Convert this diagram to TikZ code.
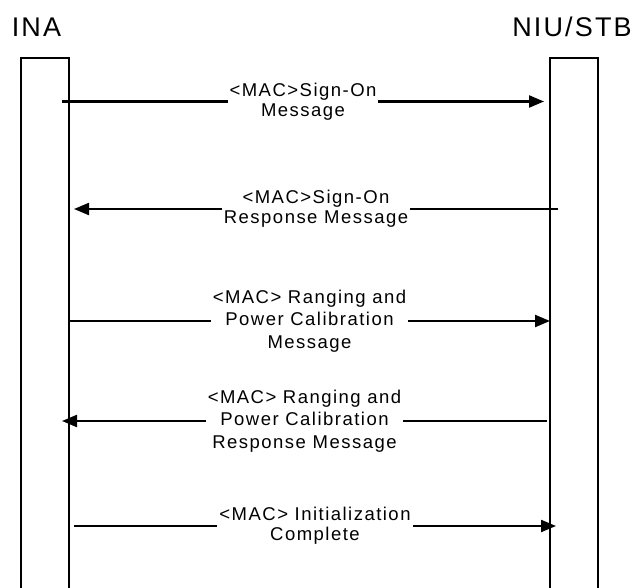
\documentclass[tikz,border=0pt]{standalone}
\usepackage{fontspec}
\setmainfont[LetterSpace=8]{Liberation Sans}
\usetikzlibrary{arrows.meta, positioning}

\begin{document}
\begin{tikzpicture}[x=1pt, y=1pt]
% Styles
\tikzstyle{lifeline} = [rectangle, draw=black, line width=2.2pt, minimum width=48pt, minimum height=560pt, anchor=north, inner sep=0pt]
\tikzstyle{party} = [anchor=base, inner sep=0pt, font=\fontsize{27}{31}\selectfont]
\tikzstyle{msg} = [fill=white, text=black, align=center, inner xsep=2pt, inner ysep=2pt, font=\fontsize{18.5}{20}\selectfont]
\tikzstyle{msgtall} = [msg, font=\fontsize{18.5}{22.5}\selectfont]
\tikzstyle{arrow} = [line width=2.2pt, -{Triangle[length=15pt, width=12pt]}]

\useasboundingbox (0,0) rectangle (635,-588);

% Nodes
\node (ina) [lifeline] at (45,-57) {};
\node (niu_stb) [lifeline] at (574,-57) {};
\node (ina_name) [party] at (36.5,-37) {INA};
\node (niu_stb_name) [party] at (572,-37) {NIU/STB};

% Message ends
\coordinate (sign_on_a) at (62,-101.5);
\coordinate (sign_on_b) at (544,-101.5);
\coordinate (sign_on_resp_a) at (558,-209);
\coordinate (sign_on_resp_b) at (74,-209);
\coordinate (ranging_a) at (69,-321);
\coordinate (ranging_b) at (550,-321);
\coordinate (ranging_resp_a) at (547,-421);
\coordinate (ranging_resp_b) at (62,-421);
\coordinate (init_a) at (74,-526);
\coordinate (init_b) at (556,-526);

% Arrows
\draw [arrow] (sign_on_a) -- node[msg] {<MAC>Sign-On\\Message} (sign_on_b);
\draw [arrow] (sign_on_resp_a) -- node[msg] {<MAC>Sign-On\\Response Message} (sign_on_resp_b);
\draw [arrow] (ranging_a) -- node[msgtall] {<MAC> Ranging and\\Power Calibration\\Message} (ranging_b);
\draw [arrow] (ranging_resp_a) -- node[msgtall] {<MAC> Ranging and\\Power Calibration\\Response Message} (ranging_resp_b);
\draw [arrow] (init_a) -- node[msg] {<MAC> Initialization\\Complete} (init_b);
\end{tikzpicture}
\end{document}
